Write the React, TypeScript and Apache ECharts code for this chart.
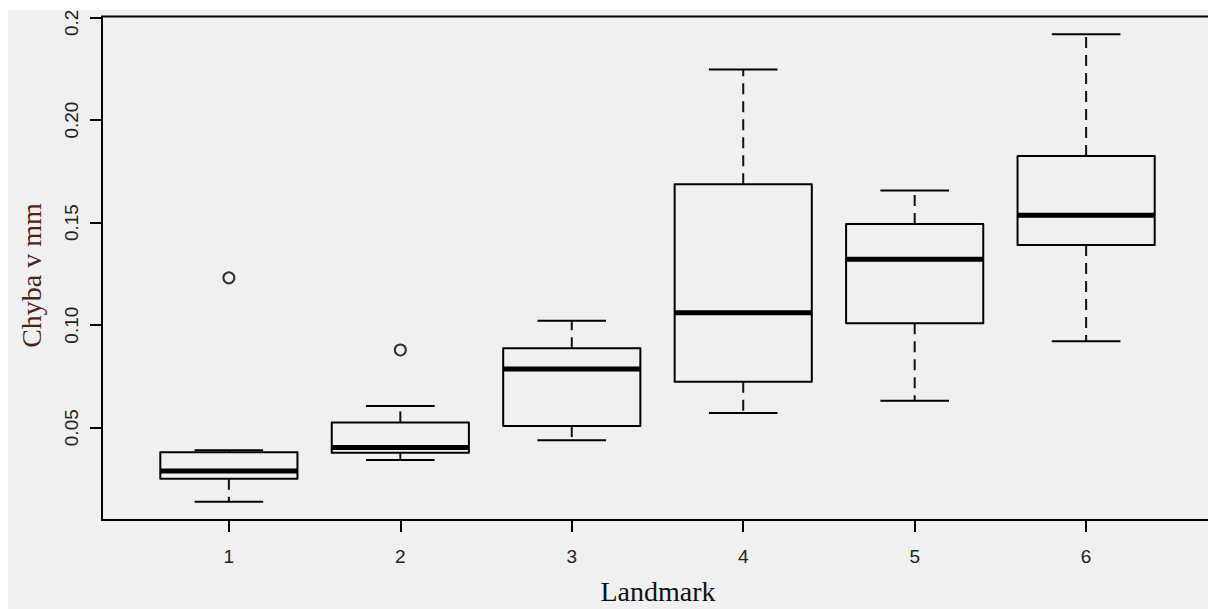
import React, { useEffect, useRef } from "react";
import * as echarts from "echarts";

const categories = [1, 2, 3, 4, 5, 6];
const whiskerLow = [0.0139, 0.0343, 0.0439, 0.0572, 0.0632, 0.0921];
const q1 = [0.0251, 0.0378, 0.0508, 0.0724, 0.1009, 0.1391];
const medians = [0.0289, 0.0403, 0.0786, 0.1061, 0.1321, 0.1536];
const q3 = [0.038, 0.0526, 0.0887, 0.1687, 0.1493, 0.1825];
const whiskerHigh = [0.039, 0.0606, 0.1022, 0.2247, 0.1656, 0.2418];
const outlierCats = [1, 2];
const outlierValues = [0.1231, 0.0879];
const yTicks = [0.05, 0.1, 0.15, 0.2, 0.25];
const xTitle = "Landmark";
const yTitle = "Chyba v mm";

export default function App() {
  const ref = useRef<HTMLDivElement>(null);

  useEffect(() => {
    if (!ref.current) return;
    const chart = echarts.init(ref.current, null, { renderer: "svg" });

    const boxData = categories.map((c, i) => [
      c,
      whiskerLow[i],
      q1[i],
      medians[i],
      q3[i],
      whiskerHigh[i],
    ]);
    const outData = outlierCats.map((c, i) => [c, outlierValues[i]]);

    const renderItem = (params: any, api: any) => {
      const x = api.value(0);
      const lo = api.coord([x, api.value(1)]);
      const b1 = api.coord([x, api.value(2)]);
      const md = api.coord([x, api.value(3)]);
      const b3 = api.coord([x, api.value(4)]);
      const hi = api.coord([x, api.value(5)]);
      const left = api.coord([x - 0.4, api.value(2)])[0];
      const right = api.coord([x + 0.4, api.value(2)])[0];
      const capL = api.coord([x - 0.2, api.value(2)])[0];
      const capR = api.coord([x + 0.2, api.value(2)])[0];
      const cx = lo[0];
      const solid = { stroke: "#000", lineWidth: 2, fill: "none" };
      const dashed = { stroke: "#111", lineWidth: 2, lineDash: [11, 7] };
      return {
        type: "group",
        children: [
          {
            type: "line",
            shape: { x1: cx, y1: b3[1], x2: cx, y2: hi[1] },
            style: dashed,
          },
          {
            type: "line",
            shape: { x1: cx, y1: b1[1], x2: cx, y2: lo[1] },
            style: dashed,
          },
          {
            type: "line",
            shape: { x1: capL, y1: hi[1], x2: capR, y2: hi[1] },
            style: solid,
          },
          {
            type: "line",
            shape: { x1: capL, y1: lo[1], x2: capR, y2: lo[1] },
            style: solid,
          },
          {
            type: "rect",
            shape: { x: left, y: b3[1], width: right - left, height: b1[1] - b3[1] },
            style: { ...solid, lineJoin: "round" },
          },
          {
            type: "line",
            shape: { x1: left, y1: md[1], x2: right, y2: md[1] },
            style: { stroke: "#000", lineWidth: 5 },
          },
        ],
      };
    };

    const labelFont = {
      fontFamily: "'Liberation Sans', Arial, sans-serif",
      fontSize: 19,
      color: "#222",
    };

    chart.setOption({
      animation: false,
      backgroundColor: "transparent",
      grid: {
        show: true,
        left: 94,
        top: 6.5,
        width: 1111,
        height: 503.5,
        outerBoundsMode: "none",
        containLabel: false,
        borderColor: "#000",
        borderWidth: 2,
        backgroundColor: "transparent",
      },
      xAxis: {
        type: "value",
        min: 0.26,
        max: 6.74,
        splitLine: { show: false },
        axisLine: { show: false },
        axisTick: {
          show: true,
          customValues: categories,
          length: 12,
          lineStyle: { color: "#000", width: 2 },
        },
        axisLabel: {
          ...labelFont,
          customValues: categories,
          margin: 27,
          formatter: (v: number) => String(v),
        },
      },
      yAxis: {
        type: "value",
        min: 0.005,
        max: 0.2505,
        splitLine: { show: false },
        axisLine: { show: false },
        axisTick: {
          show: true,
          customValues: yTicks,
          length: 12,
          lineStyle: { color: "#000", width: 2 },
        },
        axisLabel: {
          ...labelFont,
          customValues: yTicks,
          rotate: 90,
          margin: 21,
          formatter: (v: number) => v.toFixed(2),
        },
      },
      graphic: [
        {
          type: "text",
          x: 650,
          y: 581,
          style: {
            text: xTitle,
            fontFamily: "'Liberation Serif', 'Times New Roman', serif",
            fontSize: 28,
            fill: "#111",
            align: "center",
            verticalAlign: "middle",
          },
        },
        {
          type: "text",
          x: 23,
          y: 265.5,
          rotation: Math.PI / 2,
          style: {
            text: yTitle,
            fontFamily: "'Liberation Serif', 'Times New Roman', serif",
            fontSize: 28,
            fill: "#4b2418",
            align: "center",
            verticalAlign: "middle",
          },
        },
      ],
      series: [
        {
          type: "custom",
          renderItem,
          data: boxData,
          encode: { x: 0, y: [1, 2, 3, 4, 5] },
          clip: false,
        },
        {
          type: "scatter",
          data: outData,
          symbol: "circle",
          symbolSize: 11,
          itemStyle: { color: "transparent", borderColor: "#000", borderWidth: 2 },
        },
      ],
    });

    return () => chart.dispose();
  }, []);

  return (
    <div
      style={{
        position: "fixed",
        left: 8,
        top: 10,
        width: 1200,
        height: 599,
        background: "#f0f0f0",
        overflow: "hidden",
      }}
    >
      <div ref={ref} style={{ width: 1200, height: 599 }} />
    </div>
  );
}
